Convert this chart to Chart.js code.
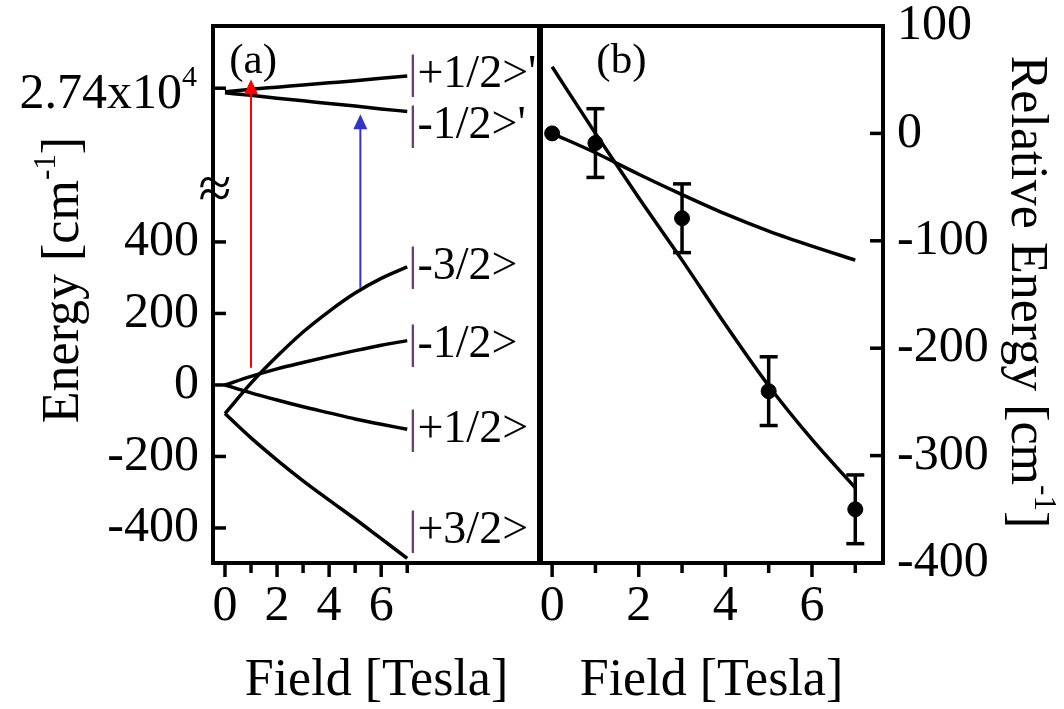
<!DOCTYPE html>
<html lang="en">
  <head>
    <meta charset="utf-8" />
    <title>Zeeman levels and relative energy</title>
    <style>
      * {
        margin: 0;
        padding: 0;
      }
      body {
        background: white;
        width: 1064px;
        height: 709px;
        overflow: hidden;
      }
      canvas {
        position: absolute;
        left: 0;
        top: 0;
      }
    </style>
  </head>
  <body>
    <canvas id="chartA" width="1064" height="709"></canvas>
    <canvas id="chartB" width="1064" height="709"></canvas>

    <script src="https://cdn.jsdelivr.net/npm/chart.js"></script>
    <script>
      const FONT = "'Liberation Serif', 'Times New Roman', serif";

      // ---- panel (a): energy levels vs field ----
      const fieldA = [0, 1, 2, 3, 4, 5, 6, 7];
      const levelM32 = [-80, 5, 80, 148, 206, 257, 298, 330];
      const levelM12 = [0, 24, 45, 63, 80, 96, 111, 124];
      const levelP12 = [0, -22, -42, -61, -78, -95, -110, -124];
      const levelP32 = [-80, -148, -210, -268, -322, -375, -430, -485];
      const levelP12x = [27390, 27397, 27403, 27409, 27415, 27421, 27428, 27434];
      const levelM12x = [27387, 27380, 27372, 27365, 27357, 27350, 27342, 27335];

      const stateNames = ["|+1/2>'", "|-1/2>'", "|-3/2>", "|-1/2>", "|+1/2>", "|+3/2>"];
      const stateAt = [27438, 27295, 330, 113, -126, -408];

      const yTicksA = [-400, -200, 0, 200, 400];
      const BREAK_VALUE = 27400; // shown as 2.74x10^4
      const BREAK_POS = 830;
      const BREAK_MARK = 540;

      // transitions: field, from energy, to energy
      const arrowField = [1, 5.2];
      const arrowFrom = [48, 272];
      const arrowTo = [27425, 27327];
      const arrowColor = ["#ff0000", "#3333cc"];

      // ---- panel (b): relative energy vs field ----
      const fieldB = [0, 1, 3, 5, 7];
      const relEnergy = [0, -9, -79, -240, -350];
      const relError = [0, 32, 32, 32, 32];
      const fitField = [0, 1, 2, 3, 4, 5, 6, 7];
      const fitSteep = [62, 0, -60, -118, -178, -235, -285, -330];
      const fitShallow = [0, -18, -38, -57, -75, -91, -105, -118];

      const toPlot = (e) => (e > 10000 ? e - BREAK_VALUE + BREAK_POS : e);
      const pts = (xs, ys) => xs.map((v, i) => ({ x: v, y: toPlot(ys[i]) }));

      function curve(xs, ys) {
        return {
          data: pts(xs, ys),
          borderColor: "black",
          borderWidth: 3.5,
          pointRadius: 0,
          showLine: true,
          cubicInterpolationMode: "monotone",
        };
      }

      function seg(ctx, x1, y1, x2, y2) {
        ctx.beginPath();
        ctx.moveTo(x1, y1);
        ctx.lineTo(x2, y2);
        ctx.stroke();
      }

      function supText(ctx, parts, size) {
        // parts: [text, isSuperscript]; drawn from the current origin
        let cx = 0;
        parts.forEach(([t, sup]) => {
          ctx.font = (sup ? size * 0.6 : size) + "px " + FONT;
          ctx.fillText(t, cx, sup ? -size * 0.45 : 0);
          cx += ctx.measureText(t).width;
        });
        return cx;
      }

      function measureSup(ctx, parts, size) {
        let w = 0;
        parts.forEach(([t, sup]) => {
          ctx.font = (sup ? size * 0.6 : size) + "px " + FONT;
          w += ctx.measureText(t).width;
        });
        return w;
      }

      // keep the plot box exactly where the layout padding puts it
      const noPad = (s) => {
        s.paddingTop = 0;
        s.paddingBottom = 0;
        s.paddingLeft = 0;
        s.paddingRight = 0;
      };

      const panelA = {
        id: "panelA",
        afterDraw(chart) {
          const { ctx, chartArea: a, scales: { x, y } } = chart;
          ctx.save();
          ctx.strokeStyle = "black";
          ctx.fillStyle = "black";
          ctx.lineWidth = 4;
          ctx.beginPath();
          ctx.moveTo(a.right, a.top);
          ctx.lineTo(a.left, a.top);
          ctx.lineTo(a.left, a.bottom);
          ctx.lineTo(a.right, a.bottom);
          ctx.stroke();

          // inward ticks on y, outward ticks on x
          ctx.lineWidth = 3.5;
          y.ticks.forEach((t) => {
            const py = y.getPixelForValue(t.value);
            seg(ctx, a.left, py, a.left + 13, py);
          });
          x.ticks.forEach((t) => {
            const px = x.getPixelForValue(t.value);
            seg(ctx, px, a.bottom, px, a.bottom + (t.value % 2 === 0 ? 14 : 10));
          });

          // axis break
          ctx.font = "60px " + FONT;
          ctx.textAlign = "center";
          ctx.textBaseline = "middle";
          ctx.fillText("\u2248", a.left + 2, y.getPixelForValue(BREAK_MARK));

          // 2.74x10^4 tick label
          const by = y.getPixelForValue(BREAK_POS);
          const lab = [["2.74x10", false], ["4", true]];
          const w = measureSup(ctx, lab, 50);
          ctx.save();
          ctx.textAlign = "left";
          ctx.textBaseline = "alphabetic";
          ctx.translate(a.left - 16 - w, by + 20);
          supText(ctx, lab, 50);
          ctx.restore();

          // transition arrows
          arrowField.forEach((f, i) => {
            const px = x.getPixelForValue(f);
            const y0 = y.getPixelForValue(toPlot(arrowFrom[i]));
            const y1 = y.getPixelForValue(toPlot(arrowTo[i]));
            ctx.strokeStyle = arrowColor[i];
            ctx.fillStyle = arrowColor[i];
            ctx.lineWidth = 2;
            seg(ctx, px, y0, px, y1 + 14);
            ctx.beginPath();
            ctx.moveTo(px, y1);
            ctx.lineTo(px - 7, y1 + 15);
            ctx.lineTo(px + 7, y1 + 15);
            ctx.closePath();
            ctx.fill();
          });

          // state labels
          ctx.textAlign = "left";
          ctx.textBaseline = "middle";
          ctx.font = "46px " + FONT;
          stateNames.forEach((s, i) => {
            const px = x.getPixelForValue(7) + 1;
            const py = y.getPixelForValue(toPlot(stateAt[i]));
            ctx.fillStyle = "#6b3d7a";
            ctx.fillText("|", px, py);
            const bw = ctx.measureText("|").width;
            ctx.fillStyle = "black";
            ctx.fillText(s.slice(1), px + bw, py);
          });

          ctx.font = "43px " + FONT;
          ctx.textAlign = "center";
          ctx.fillText("(a)", x.getPixelForValue(1.08), a.top + 36);

          // y title
          const title = [["Energy [cm", false], ["-1", true], ["]", false]];
          const tw = measureSup(ctx, title, 52);
          ctx.save();
          ctx.translate(78, 280);
          ctx.rotate(-Math.PI / 2);
          ctx.textAlign = "left";
          ctx.textBaseline = "alphabetic";
          ctx.translate(-tw / 2, 0);
          supText(ctx, title, 52);
          ctx.restore();
          ctx.restore();
        },
      };

      const errorBars = {
        id: "errorBars",
        afterDatasetsDraw(chart) {
          const { ctx, scales: { x, y } } = chart;
          ctx.save();
          ctx.strokeStyle = "black";
          ctx.lineWidth = 3.5;
          fieldB.forEach((f, i) => {
            if (!relError[i]) return;
            const px = x.getPixelForValue(f);
            const hi = y.getPixelForValue(relEnergy[i] + relError[i]);
            const lo = y.getPixelForValue(relEnergy[i] - relError[i]);
            seg(ctx, px, hi, px, lo);
            seg(ctx, px - 9, hi, px + 9, hi);
            seg(ctx, px - 9, lo, px + 9, lo);
          });
          ctx.restore();
        },
      };

      const panelB = {
        id: "panelB",
        afterDraw(chart) {
          const { ctx, chartArea: a, scales: { x, y } } = chart;
          ctx.save();
          ctx.strokeStyle = "black";
          ctx.fillStyle = "black";
          ctx.lineWidth = 4;
          ctx.strokeRect(a.left, a.top, a.right - a.left, a.bottom - a.top);
          ctx.lineWidth = 6;
          seg(ctx, a.left, a.top, a.left, a.bottom);
          ctx.lineWidth = 3.5;

          y.ticks.forEach((t) => {
            const py = y.getPixelForValue(t.value);
            seg(ctx, a.right, py, a.right - 13, py);
          });
          x.ticks.forEach((t) => {
            const px = x.getPixelForValue(t.value);
            seg(ctx, px, a.bottom, px, a.bottom + (t.value % 2 === 0 ? 14 : 10));
          });

          ctx.font = "43px " + FONT;
          ctx.textAlign = "center";
          ctx.textBaseline = "middle";
          ctx.fillText("(b)", x.getPixelForValue(1.6), a.top + 36);

          const title = [["Relative Energy [cm", false], ["-1", true], ["]", false]];
          const tw = measureSup(ctx, title, 52);
          ctx.save();
          ctx.translate(1012, 292);
          ctx.rotate(Math.PI / 2);
          ctx.textAlign = "left";
          ctx.textBaseline = "alphabetic";
          ctx.translate(-tw / 2, 0);
          supText(ctx, title, 52);
          ctx.restore();
          ctx.restore();
        },
      };

      const tickFont = { family: FONT, size: 50 };
      const titleFont = { family: FONT, size: 52 };

      new Chart(document.getElementById("chartA"), {
        type: "scatter",
        data: {
          datasets: [
            curve(fieldA, levelM32),
            curve(fieldA, levelM12),
            curve(fieldA, levelP12),
            curve(fieldA, levelP32),
            curve(fieldA, levelP12x),
            curve(fieldA, levelM12x),
          ],
        },
        options: {
          responsive: false,
          animation: false,
          devicePixelRatio: 1,
          layout: { padding: { top: 26, right: 524, left: 0, bottom: 0 } },
          plugins: { legend: { display: false }, tooltip: { enabled: false } },
          scales: {
            x: {
              type: "linear",
              min: -0.46,
              max: 12.1,
              afterBuildTicks: (s) => {
                s.ticks = fieldA.map((v) => ({ value: v }));
              },
              afterFit: (s) => {
                s.height = 146;
                noPad(s);
              },
              grid: { display: false, drawTicks: false },
              border: { display: false },
              ticks: {
                autoSkip: false,
                maxRotation: 0,
                padding: 14,
                color: "black",
                font: tickFont,
                callback: (v) => (v % 2 === 0 ? v : ""),
              },
              title: {
                display: true,
                text: "Field [Tesla]",
                color: "black",
                font: titleFont,
                padding: { top: 0, bottom: -4 },
              },
            },
            y: {
              type: "linear",
              min: -498,
              max: 1004,
              afterBuildTicks: (s) => {
                s.ticks = yTicksA.concat([BREAK_POS]).map((v) => ({ value: v }));
              },
              afterFit: (s) => {
                s.width = 213;
                noPad(s);
              },
              grid: { display: false, drawTicks: false },
              border: { display: false },
              ticks: {
                autoSkip: false,
                padding: 14,
                color: "black",
                font: tickFont,
                callback: (v) => (v === BREAK_POS ? "" : v),
              },
            },
          },
        },
        plugins: [panelA],
      });

      new Chart(document.getElementById("chartB"), {
        type: "scatter",
        data: {
          datasets: [
            {
              data: pts(fieldB, relEnergy),
              backgroundColor: "black",
              borderColor: "black",
              pointRadius: 7.5,
              showLine: false,
            },
            curve(fitField, fitSteep),
            curve(fitField, fitShallow),
          ],
        },
        options: {
          responsive: false,
          animation: false,
          devicePixelRatio: 1,
          layout: { padding: { top: 26, right: 0, left: 540, bottom: 0 } },
          plugins: { legend: { display: false }, tooltip: { enabled: false } },
          scales: {
            x: {
              type: "linear",
              min: -0.28,
              max: 7.64,
              afterBuildTicks: (s) => {
                s.ticks = fitField.map((v) => ({ value: v }));
              },
              afterFit: (s) => {
                s.height = 146;
                noPad(s);
              },
              grid: { display: false, drawTicks: false },
              border: { display: false },
              ticks: {
                autoSkip: false,
                maxRotation: 0,
                padding: 14,
                color: "black",
                font: tickFont,
                callback: (v) => (v % 2 === 0 ? v : ""),
              },
              title: {
                display: true,
                text: "Field [Tesla]",
                color: "black",
                font: titleFont,
                padding: { top: 0, bottom: -4 },
              },
            },
            y: {
              type: "linear",
              position: "right",
              min: -400,
              max: 100,
              afterFit: (s) => {
                s.width = 181;
                noPad(s);
              },
              grid: { display: false, drawTicks: false },
              border: { display: false },
              ticks: {
                stepSize: 100,
                padding: 14,
                color: "black",
                font: tickFont,
              },
            },
          },
        },
        plugins: [panelB, errorBars],
      });
    </script>
  </body>
</html>
